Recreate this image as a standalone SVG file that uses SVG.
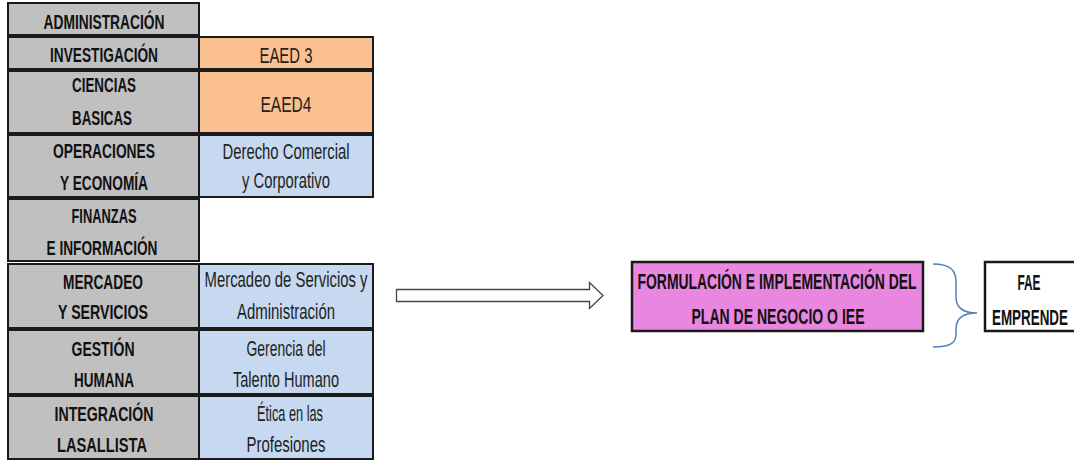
<svg xmlns="http://www.w3.org/2000/svg" width="1074" height="462" viewBox="0 0 1074 462">
<style>
.g{fill:#c0c0c0;stroke:#1a1a1a;stroke-width:2}
.o{fill:#fac090;stroke:#1a1a1a;stroke-width:2}
.b{fill:#c6d9f1;stroke:#1a1a1a;stroke-width:2}
.h{font-family:"Liberation Sans Narrow","Liberation Sans",Arial,sans-serif;font-weight:bold;font-size:21px;fill:#111;text-anchor:middle}
.n{font-family:"Liberation Sans Narrow","Liberation Sans",Arial,sans-serif;font-size:22px;fill:#222;text-anchor:middle}
</style>
<rect width="1074" height="462" fill="#fff"/>
<g id="row-administracion">
<rect class="g" x="8" y="3" width="191" height="32"/>
<text class="h" x="104" y="29" textLength="121" lengthAdjust="spacingAndGlyphs">ADMINISTRACIÓN</text>
</g>
<g id="row-investigacion">
<rect class="g" x="8" y="37" width="191" height="32"/>
<rect class="o" x="199" y="37" width="174" height="32"/>
<text class="h" x="104" y="62" textLength="108" lengthAdjust="spacingAndGlyphs">INVESTIGACIÓN</text>
<text class="n" x="286" y="63" textLength="53" lengthAdjust="spacingAndGlyphs">EAED 3</text>
</g>
<g id="row-ciencias">
<rect class="g" x="8" y="71" width="191" height="62"/>
<rect class="o" x="199" y="71" width="174" height="62"/>
<text class="h" x="104" y="92" textLength="64" lengthAdjust="spacingAndGlyphs">CIENCIAS</text>
<text class="h" x="102" y="125" textLength="60" lengthAdjust="spacingAndGlyphs">BASICAS</text>
<text class="n" x="286" y="112" textLength="51" lengthAdjust="spacingAndGlyphs">EAED4</text>
</g>
<g id="row-operaciones">
<rect class="g" x="8" y="135" width="191" height="62"/>
<rect class="b" x="199" y="135" width="174" height="62"/>
<text class="h" x="104" y="158" textLength="102" lengthAdjust="spacingAndGlyphs">OPERACIONES</text>
<text class="h" x="104" y="190" textLength="88" lengthAdjust="spacingAndGlyphs">Y ECONOMÍA</text>
<text class="n" x="286" y="159" textLength="127" lengthAdjust="spacingAndGlyphs">Derecho Comercial</text>
<text class="n" x="286" y="188" textLength="88" lengthAdjust="spacingAndGlyphs">y Corporativo</text>
</g>
<g id="row-finanzas">
<rect class="g" x="8" y="199" width="191" height="62"/>
<text class="h" x="104" y="223" textLength="65" lengthAdjust="spacingAndGlyphs">FINANZAS</text>
<text class="h" x="102" y="255" textLength="111" lengthAdjust="spacingAndGlyphs">E INFORMACIÓN</text>
</g>
<g id="row-mercadeo">
<rect class="g" x="8" y="264" width="191" height="64"/>
<rect class="b" x="199" y="264" width="174" height="64"/>
<text class="h" x="103" y="289" textLength="80" lengthAdjust="spacingAndGlyphs">MERCADEO</text>
<text class="h" x="103" y="319" textLength="90" lengthAdjust="spacingAndGlyphs">Y SERVICIOS</text>
<text class="n" x="286" y="287" textLength="163" lengthAdjust="spacingAndGlyphs">Mercadeo de Servicios y</text>
<text class="n" x="286" y="319" textLength="98" lengthAdjust="spacingAndGlyphs">Administración</text>
</g>
<g id="row-gestion">
<rect class="g" x="8" y="330" width="191" height="64"/>
<rect class="b" x="199" y="330" width="174" height="64"/>
<text class="h" x="103" y="356" textLength="63" lengthAdjust="spacingAndGlyphs">GESTIÓN</text>
<text class="h" x="104" y="387" textLength="60" lengthAdjust="spacingAndGlyphs">HUMANA</text>
<text class="n" x="286" y="356" textLength="79" lengthAdjust="spacingAndGlyphs">Gerencia del</text>
<text class="n" x="286" y="387" textLength="106" lengthAdjust="spacingAndGlyphs">Talento Humano</text>
</g>
<g id="row-integracion">
<rect class="g" x="8" y="396" width="191" height="63"/>
<rect class="b" x="199" y="396" width="174" height="63"/>
<text class="h" x="104" y="421" textLength="99" lengthAdjust="spacingAndGlyphs">INTEGRACIÓN</text>
<text class="h" x="102" y="452" textLength="90" lengthAdjust="spacingAndGlyphs">LASALLISTA</text>
<text class="n" x="290" y="421" textLength="66" lengthAdjust="spacingAndGlyphs">Ética en las</text>
<text class="n" x="286" y="452" textLength="79" lengthAdjust="spacingAndGlyphs">Profesiones</text>
</g>
<g id="connectors">
<path d="M396.5 289.5 H589.5 V282.5 L603 295.5 L589.5 308.5 V301.5 H396.5 Z" fill="#fff" stroke="#444" stroke-width="1.3"/>
<path d="M933 264 C950 264 956 270 956 282 V297 C956 309 964 313 977 313 C964 313 956 317 956 329 V334 C956 343 950 347 933 347" fill="none" stroke="#4f81bd" stroke-width="1.5"/>
</g>
<g id="node-formulacion">
<rect x="632" y="262" width="291" height="69" fill="#e986e0" stroke="#1a1a1a" stroke-width="2.5"/>
<text class="h" x="777" y="289" textLength="279" lengthAdjust="spacingAndGlyphs" style="font-size:22px">FORMULACIÓN E IMPLEMENTACIÓN DEL</text>
<text class="h" x="778" y="324" textLength="173" lengthAdjust="spacingAndGlyphs" style="font-size:22px">PLAN DE NEGOCIO O IEE</text>
</g>
<g id="node-fae">
<rect x="985" y="262" width="95" height="69" fill="#fff" stroke="#1a1a1a" stroke-width="2.5"/>
<text class="h" x="1029" y="290" textLength="23" lengthAdjust="spacingAndGlyphs" style="font-size:22px">FAE</text>
<text class="h" x="1030" y="325" textLength="76" lengthAdjust="spacingAndGlyphs" style="font-size:22px">EMPRENDE</text>
</g>
</svg>
